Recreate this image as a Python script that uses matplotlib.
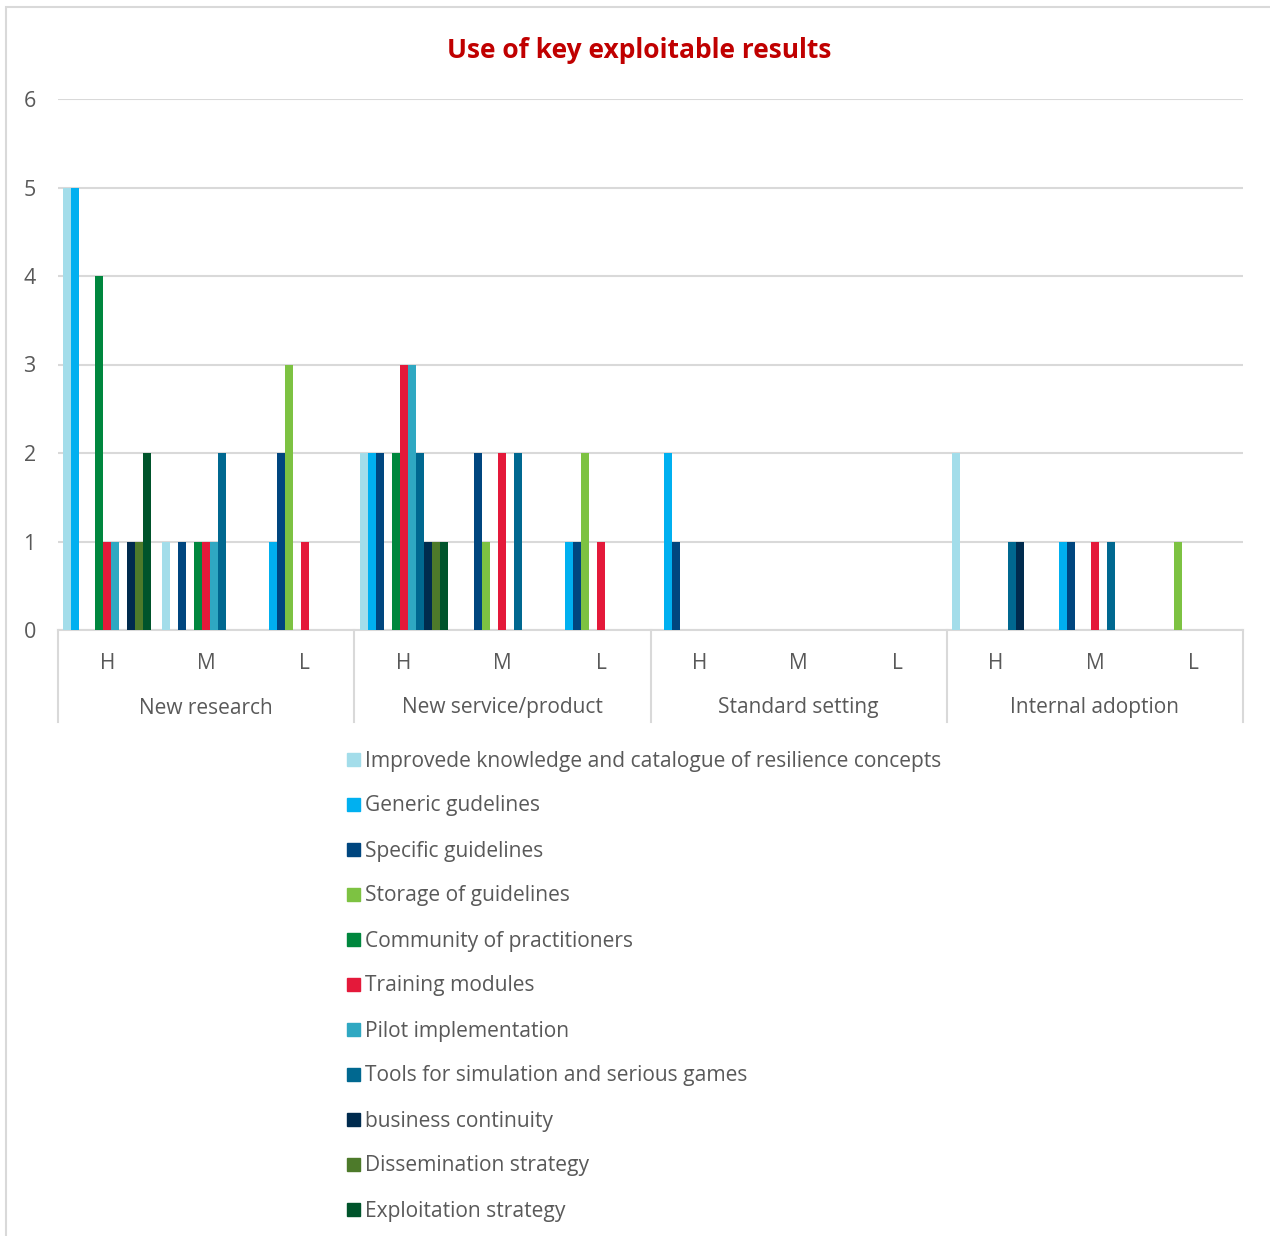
import numpy as np
import matplotlib.pyplot as plt
from matplotlib.patches import Rectangle
import matplotlib.transforms as mtransforms

plt.rcParams['font.family'] = ['Open Sans', 'DejaVu Sans']

uses = ['New research', 'New service/product', 'Standard setting', 'Internal adoption']
levels = ['H', 'M', 'L']

series = ['Improvede knowledge and catalogue of resilience concepts',
          'Generic gudelines',
          'Specific guidelines',
          'Storage of guidelines',
          'Community of practitioners',
          'Training modules',
          'Pilot implementation',
          'Tools for simulation and serious games',
          'business continuity',
          'Dissemination strategy',
          'Exploitation strategy']

colors = ['#A3DDEA', '#00B0F0', '#00467F', '#7DC242', '#00873E', '#E4193A',
          '#2FA8C2', '#006890', '#002B4E', '#4D7A2A', '#00542B']

# one row per series, 12 columns: (New research H,M,L), (New service H,M,L), ...
improved = [5, 1, 0,   2, 0, 0,   0, 0, 0,   2, 0, 0]
generic  = [5, 0, 1,   2, 0, 1,   2, 0, 0,   0, 1, 0]
specific = [0, 1, 2,   2, 2, 1,   1, 0, 0,   0, 1, 0]
storage  = [0, 0, 3,   0, 1, 2,   0, 0, 0,   0, 0, 1]
community = [4, 1, 0,  2, 0, 0,   0, 0, 0,   0, 0, 0]
training = [1, 1, 1,   3, 2, 1,   0, 0, 0,   0, 1, 0]
pilot    = [1, 1, 0,   3, 0, 0,   0, 0, 0,   0, 0, 0]
tools    = [0, 2, 0,   2, 2, 0,   0, 0, 0,   1, 1, 0]
business = [1, 0, 0,   1, 0, 0,   0, 0, 0,   1, 0, 0]
dissem   = [1, 0, 0,   1, 0, 0,   0, 0, 0,   0, 0, 0]
exploit  = [2, 0, 0,   1, 0, 0,   0, 0, 0,   0, 0, 0]
values = [improved, generic, specific, storage, community, training,
          pilot, tools, business, dissem, exploit]

grid_c = '#D9D9D9'
text_c = '#595959'

W, H = 1270, 1236
fig = plt.figure(figsize=(W / 100, H / 100), dpi=100)
fig.patches.append(Rectangle((6 / W, -0.1), 1.2, 1 - 7 / H + 0.1, transform=fig.transFigure,
                             fill=False, edgecolor=grid_c, lw=1.5))

ax = fig.add_axes([58 / W, (H - 630) / H, (1243 - 58) / W, 531 / H])

n = len(series)
bw = 0.081
x = np.arange(len(uses) * len(levels))
for i in range(n):
    ax.bar(x + (i - (n - 1) / 2) * bw, values[i], width=bw, color=colors[i], zorder=3)

ax.set_ylim(0, 6)
ax.set_xlim(-0.5, 11.5)
ax.set_yticks(range(7))
ax.yaxis.grid(True, color=grid_c, lw=1.5, zorder=0)
for s in ['left', 'right', 'top']:
    ax.spines[s].set_visible(False)
ax.spines['bottom'].set_color(grid_c)
ax.spines['bottom'].set_linewidth(1.5)
ax.tick_params(axis='y', length=0, pad=16, labelsize=15.5, labelcolor=text_c)
ax.set_xticks(x)
ax.set_xticklabels(levels * len(uses))
ax.tick_params(axis='x', length=0, pad=16.5, labelsize=15, labelcolor=text_c)

# second level of the category axis
trans = mtransforms.blended_transform_factory(ax.transData, ax.transAxes)
for k, name in enumerate(uses):
    ax.text(3 * k + 1, -78 / 531, name, transform=trans, ha='center', va='center',
            fontsize=15, color=text_c)
for b in np.arange(-0.5, 12, 3):
    ax.plot([b, b], [0, -92 / 531], transform=trans, color=grid_c, lw=1.5, clip_on=False)

fig.text(639 / W, 1 - 50 / H, 'Use of key exploitable results', ha='center', va='center',
         fontsize=19, fontweight='bold', color='#C00000')

# legend
for i, name in enumerate(series):
    yc = 759 + 45 * i
    fig.patches.append(Rectangle((347 / W, 1 - (yc + 7) / H), 13 / W, 13 / H,
                                 transform=fig.transFigure, color=colors[i]))
    fig.text(365 / W, 1 - (yc + 2) / H, name, ha='left', va='center', fontsize=15.1,
             color=text_c)

fig.savefig('out.png', dpi=100)
